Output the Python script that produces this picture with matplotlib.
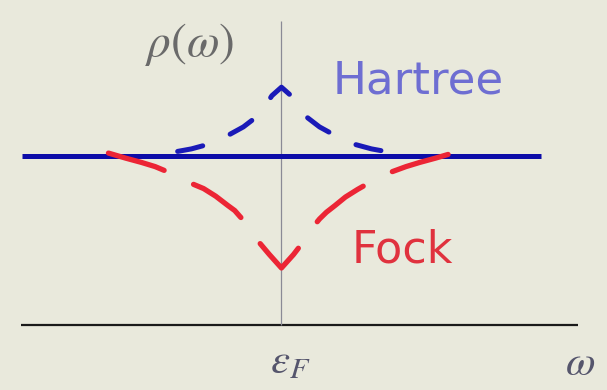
import matplotlib
matplotlib.use("Agg")
import matplotlib.pyplot as plt

plt.rcParams["mathtext.fontset"] = "stix"
plt.rcParams["lines.scale_dashes"] = False

# energy relative to the Fermi level, density of states in units of the free-electron value
free_w = [-1.5, 1.5]
free_rho = [1.0, 1.0]

hartree_w = [-0.60, -0.52, -0.43, -0.36, -0.30, -0.22, -0.15, -0.10, -0.055, 0.0,
             0.055, 0.10, 0.15, 0.22, 0.30, 0.36, 0.43, 0.52, 0.60]
hartree_rho = [1.03, 1.045, 1.07, 1.10, 1.13, 1.175, 1.23, 1.29, 1.36, 1.41,
               1.36, 1.29, 1.23, 1.175, 1.13, 1.10, 1.07, 1.045, 1.03]

fock_w = [-1.0, -0.90, -0.81, -0.73, -0.66, -0.59, -0.52, -0.45, -0.38, -0.31,
          -0.27, -0.24, -0.19, -0.14, -0.07, 0.0,
          0.07, 0.13, 0.18, 0.22, 0.26, 0.31, 0.37, 0.44, 0.50, 0.57, 0.64,
          0.72, 0.80, 0.89, 0.99]
fock_rho = [1.02, 0.99, 0.965, 0.94, 0.91, 0.88, 0.84, 0.81, 0.765, 0.71,
            0.68, 0.645, 0.59, 0.505, 0.42, 0.34,
            0.42, 0.50, 0.58, 0.63, 0.67, 0.71, 0.76, 0.805, 0.84, 0.875, 0.91,
            0.94, 0.965, 0.99, 1.02]

BG = "#e9e9dc"

fig = plt.figure(figsize=(6.07, 3.90), dpi=100)
fig.patch.set_facecolor(BG)
ax = fig.add_axes([0, 0, 1, 1])
ax.set_facecolor(BG)
ax.set_xlim(-1.627, 1.882)
ax.set_ylim(-0.382, 1.926)
ax.axis("off")

# axes of the sketch
ax.plot([-1.506, 1.714], [0, 0], color="#1a1a1a", lw=1.6, solid_capstyle="butt")
ax.plot([0, 0], [0, 1.80], color="#8a8a96", lw=0.9, solid_capstyle="butt")

# free-electron density of states
ax.plot(free_w, free_rho, color="#0c0ca8", lw=3.6, solid_capstyle="butt", zorder=3)

# Hartree: enhanced at the Fermi level
ax.plot(hartree_w, hartree_rho, color="#1a1ab8", lw=3.6,
        dashes=(18.5, 21.5), dash_capstyle="round", zorder=4)

# Fock: logarithmic dip at the Fermi level
ax.plot(fock_w, fock_rho, color="#ec2535", lw=3.8,
        dashes=(42.0, 23.5), dash_capstyle="round", zorder=4)

ax.text(0.298, 1.374, "Hartree", color="#6e6ed2", fontsize=32.5,
        ha="left", va="baseline")
ax.text(0.408, 0.370, "Fock", color="#e0323e", fontsize=32,
        ha="left", va="baseline")

ax.text(-0.529, 1.66, r"$\rho(\omega)$", color="#6a6a6a", fontsize=34,
        ha="center", va="center")
ax.text(-0.066, -0.281, r"$\varepsilon_F$", color="#55556c", fontsize=31,
        ha="left", va="baseline")
ax.text(1.639, -0.293, r"$\omega$", color="#55556c", fontsize=31,
        ha="left", va="baseline")

fig.savefig("out.png", dpi=100, facecolor=BG)
